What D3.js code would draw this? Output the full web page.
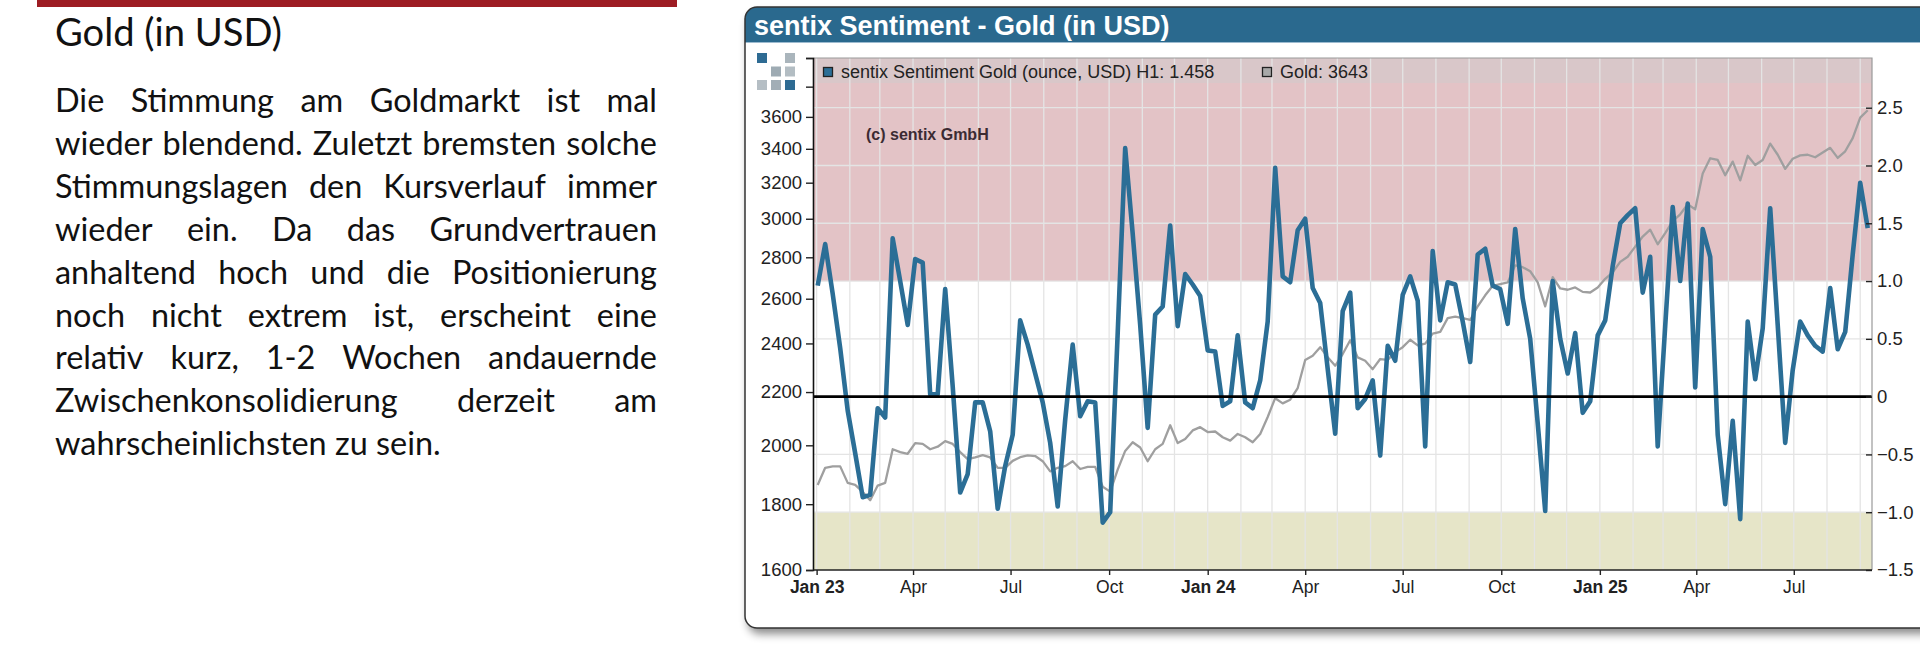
<!DOCTYPE html>
<html>
<head>
<meta charset="utf-8">
<title>sentix Sentiment - Gold (in USD)</title>
<script src="https://d3js.org/d3.v7.min.js"></script>
<style>
body { margin: 0; background: #fff; }
svg text { font-family: "Liberation Sans", Arial, sans-serif; }
.copy text { font-family: Lato, "Open Sans", sans-serif; fill: #111; }
</style>
</head>
<body>
<script>
// weekly readings, first one on this monday
const weekStart = "2023-01-02";

const sentiment = [
  0.96, 1.32, 0.89, 0.42, -0.12, -0.49, -0.87, -0.85, -0.10, -0.18,
  1.37, 1.00, 0.62, 1.19, 1.16, 0.02, 0.02, 0.93, 0.09, -0.83,
  -0.67, -0.05, -0.05, -0.30, -0.97, -0.60, -0.33, 0.66, 0.45, 0.20,
  -0.05, -0.40, -0.95, -0.20, 0.45, -0.17, -0.04, -0.05, -1.09, -1.00,
  0.55, 2.15, 1.41, 0.62, -0.27, 0.71, 0.78, 1.48, 0.61, 1.06,
  0.97, 0.87, 0.40, 0.39, -0.08, -0.04, 0.53, -0.05, -0.10, 0.14,
  0.65, 1.98, 1.04, 0.99, 1.44, 1.54, 0.94, 0.81, 0.24, -0.32,
  0.74, 0.90, -0.10, -0.02, 0.14, -0.51, 0.44, 0.31, 0.88, 1.04,
  0.83, -0.43, 1.26, 0.66, 0.99, 0.97, 0.65, 0.30, 1.23, 1.28,
  0.96, 0.93, 0.63, 1.45, 0.85, 0.50, -0.23, -0.99, 1.00, 0.50,
  0.20, 0.55, -0.14, -0.04, 0.53, 0.66, 1.13, 1.50, 1.57, 1.63,
  0.90, 1.21, -0.43, 0.61, 1.64, 1.00, 1.67, 0.08, 1.45, 1.21,
  -0.33, -0.93, -0.21, -1.06, 0.65, 0.15, 0.59, 1.63, 0.62, -0.40,
  0.23, 0.65, 0.53, 0.44, 0.39, 0.94, 0.41, 0.56, 1.23, 1.85,
  1.458
];

const gold = [
  1863, 1921, 1926, 1926, 1870, 1863, 1840, 1813, 1861, 1870,
  1986, 1976, 1970, 2008, 2005, 1986, 1995, 2015, 2005, 1976,
  1951, 1957, 1965, 1957, 1921, 1921, 1945, 1958, 1964, 1962,
  1944, 1909, 1921, 1927, 1944, 1917, 1924, 1924, 1857, 1841,
  1915, 1980, 2011, 1992, 1944, 1986, 2005, 2073, 2008, 2023,
  2054, 2066, 2048, 2050, 2029, 2017, 2041, 2029, 2011, 2041,
  2104, 2176, 2156, 2170, 2216, 2330, 2348, 2384, 2341, 2306,
  2355, 2414, 2341, 2327, 2292, 2334, 2330, 2363, 2384, 2416,
  2392, 2399, 2443, 2450, 2511, 2518, 2511, 2503, 2565, 2616,
  2661, 2669, 2677, 2760, 2751, 2731, 2677, 2565, 2702, 2648,
  2642, 2653, 2632, 2629, 2653, 2694, 2726, 2777, 2803, 2854,
  2906, 2942, 2866, 2924, 2987, 3024, 3079, 3051, 3253, 3343,
  3333, 3243, 3323, 3213, 3358, 3303, 3333, 3432, 3364, 3280,
  3340, 3360, 3364, 3349, 3378, 3406, 3345, 3385, 3466, 3595,
  3643
];

const goldTicks = [1600, 1800, 2000, 2200, 2400, 2600, 2800, 3000, 3200, 3400, 3600, 3800, 4000];
const sentTicks = [-1.5, -1, -0.5, 0, 0.5, 1, 1.5, 2, 2.5];
const quarterTicks = ["2023-01-01", "2023-04-01", "2023-07-01", "2023-10-01", "2024-01-01",
  "2024-04-01", "2024-07-01", "2024-10-01", "2025-01-01", "2025-04-01", "2025-07-01"];

const headline = "Gold (in USD)";
const bodyLines = [
  "Die Stimmung am Goldmarkt ist mal",
  "wieder blendend. Zuletzt bremsten solche",
  "Stimmungslagen den Kursverlauf immer",
  "wieder ein. Da das Grundvertrauen",
  "anhaltend hoch und die Positionierung",
  "noch nicht extrem ist, erscheint eine",
  "relativ kurz, 1-2 Wochen andauernde",
  "Zwischenkonsolidierung derzeit am",
  "wahrscheinlichsten zu sein."
];
const chartTitle = "sentix Sentiment - Gold (in USD)";
const legendSent = "sentix Sentiment Gold (ounce, USD) H1: 1.458";
const legendGold = "Gold: 3643";
const copyright = "(c) sentix GmbH";

const parseDay = d3.timeParse("%Y-%m-%d");
const dates = sentiment.map((_, i) => d3.timeDay.offset(parseDay(weekStart), 7 * i));

const W = 1920, H = 656;
const svg = d3.select("body").append("svg").attr("width", W).attr("height", H);
const defs = svg.append("defs");

// ---------- left column: headline + justified paragraph ----------
svg.append("rect").attr("x", 37).attr("y", 0).attr("width", 640).attr("height", 7).attr("fill", "#9d1c23");

const copy = svg.append("g").attr("class", "copy");
const head = copy.append("text").attr("x", 55).attr("y", 46).style("font-size", "30px").text(headline);
const hw = head.node().getComputedTextLength();
head.style("font-size", (30 * 227 / hw) + "px");

const probe = copy.append("text").style("font-size", "100px").text(bodyLines[8]);
const s9 = 100 * 386 / probe.node().getComputedTextLength();
probe.text(bodyLines[1]);
const s2 = 100 * 598 / probe.node().getComputedTextLength();
probe.remove();
const bodySize = Math.min(s9, s2);

const textLeft = 55, textRight = 657;
bodyLines.forEach((line, i) => {
  const y = 112 + 42.9 * i;
  if (i === bodyLines.length - 1) {
    copy.append("text").attr("x", textLeft).attr("y", y).style("font-size", bodySize + "px").text(line);
    return;
  }
  const words = line.split(" ");
  const nodes = words.map(w => copy.append("text").attr("y", y).style("font-size", bodySize + "px").text(w));
  const widths = nodes.map(n => n.node().getComputedTextLength());
  const gap = (textRight - textLeft - d3.sum(widths)) / (words.length - 1);
  let cx = textLeft;
  nodes.forEach((n, j) => { n.attr("x", cx); cx += widths[j] + gap; });
});

// ---------- chart frame ----------
const sh = defs.append("filter").attr("id", "shadow")
  .attr("x", "-5%").attr("y", "-5%").attr("width", "110%").attr("height", "115%");
sh.append("feDropShadow").attr("dx", 3).attr("dy", 6).attr("stdDeviation", 4)
  .attr("flood-color", "#000").attr("flood-opacity", 0.45);

defs.append("clipPath").attr("id", "frameClip")
  .append("rect").attr("x", 745).attr("y", 7).attr("width", 1250).attr("height", 621).attr("rx", 12);

svg.append("rect").attr("x", 745).attr("y", 7).attr("width", 1250).attr("height", 621).attr("rx", 12)
  .attr("fill", "#fff").attr("filter", "url(#shadow)");
svg.append("rect").attr("x", 745).attr("y", 7).attr("width", 1250).attr("height", 35)
  .attr("fill", "#2a698e").attr("clip-path", "url(#frameClip)");
svg.append("line").attr("x1", 745).attr("x2", W).attr("y1", 42.5).attr("y2", 42.5)
  .attr("stroke", "#9dbbd0").attr("stroke-width", 1);
svg.append("rect").attr("x", 745).attr("y", 7).attr("width", 1250).attr("height", 621).attr("rx", 12)
  .attr("fill", "none").attr("stroke", "#333").attr("stroke-width", 1.5);

svg.append("text").attr("x", 754).attr("y", 35).attr("fill", "#fff")
  .style("font-size", "27px").style("font-weight", "bold").text(chartTitle);

// logo
const logo = [[0, 0, "#2e6b93"], [2, 0, "#aab5bc"], [1, 1, "#9eabb3"], [2, 1, "#b3bdc3"],
  [0, 2, "#b5bec4"], [1, 2, "#a2aeb6"], [2, 2, "#2e6b93"]];
svg.append("g").selectAll("rect").data(logo).join("rect")
  .attr("x", d => 757 + d[0] * 14).attr("y", d => 53 + d[1] * 13.5)
  .attr("width", 10).attr("height", 10).attr("fill", d => d[2]);

// ---------- plot ----------
const P = { left: 813, right: 1872, top: 58, bottom: 570 };

const x = d3.scaleTime()
  .domain([new Date(2022, 11, 28, 15), new Date(2025, 8, 12)])
  .range([P.left, P.right]);
const yL = d3.scaleLog().domain([1600, 4000]).range([P.bottom, P.top]);
const yR = d3.scaleLinear().domain([-1.5, 2.93]).range([P.bottom, P.top]);

const plot = svg.append("g");
plot.append("rect").attr("x", P.left).attr("y", P.top).attr("width", P.right - P.left)
  .attr("height", P.bottom - P.top).attr("fill", "#fff");
// zones
plot.append("rect").attr("x", P.left).attr("y", P.top).attr("width", P.right - P.left)
  .attr("height", yR(1) - P.top).attr("fill", "#e3c3c6");
plot.append("rect").attr("x", P.left).attr("y", yR(-1)).attr("width", P.right - P.left)
  .attr("height", P.bottom - yR(-1)).attr("fill", "#e6e5c8");
// legend band
plot.append("rect").attr("x", P.left).attr("y", P.top).attr("width", P.right - P.left)
  .attr("height", 25).attr("fill", "#d9c7c9");

// grid
const months = d3.timeMonth.range(new Date(2023, 0, 1), new Date(2025, 8, 2));
plot.append("g").selectAll("line").data(months).join("line")
  .attr("x1", d => x(d)).attr("x2", d => x(d)).attr("y1", P.top).attr("y2", P.bottom)
  .attr("stroke", "#e4e4e4").attr("stroke-width", 1.3);
plot.append("g").selectAll("line").data(sentTicks.filter(v => v > -1.5)).join("line")
  .attr("x1", P.left).attr("x2", P.right).attr("y1", d => yR(d)).attr("y2", d => yR(d))
  .attr("stroke", "#e4e4e4").attr("stroke-width", 1.3);

defs.append("clipPath").attr("id", "plotClip").append("rect")
  .attr("x", P.left).attr("y", P.top).attr("width", P.right - P.left).attr("height", P.bottom - P.top);

const lines = plot.append("g").attr("clip-path", "url(#plotClip)");
lines.append("path").datum(gold)
  .attr("d", d3.line().x((d, i) => x(dates[i])).y(d => yL(d)))
  .attr("fill", "none").attr("stroke", "#9f9f9f").attr("stroke-width", 2.3).attr("stroke-linejoin", "round");
lines.append("path").datum(sentiment)
  .attr("d", d3.line().x((d, i) => x(dates[i])).y(d => yR(d)))
  .attr("fill", "none").attr("stroke", "#2b6e96").attr("stroke-width", 4.6).attr("stroke-linejoin", "round");

// zero line
plot.append("line").attr("x1", P.left).attr("x2", P.right).attr("y1", yR(0)).attr("y2", yR(0))
  .attr("stroke", "#000").attr("stroke-width", 2.6);

// border top/right
plot.append("path")
  .attr("d", `M${P.left},${P.top}H${P.right}V${P.bottom}`)
  .attr("fill", "none").attr("stroke", "#9a9a9a").attr("stroke-width", 1.2);

// legend
plot.append("rect").attr("x", 823.5).attr("y", 67.5).attr("width", 9).attr("height", 9)
  .attr("fill", "#2b6e96").attr("stroke", "#222").attr("stroke-width", 1.3);
plot.append("text").attr("x", 841).attr("y", 77.5).attr("fill", "#222")
  .style("font-size", "18px").text(legendSent);
plot.append("rect").attr("x", 1262.5).attr("y", 67.5).attr("width", 9).attr("height", 9)
  .attr("fill", "#a8a8a8").attr("stroke", "#222").attr("stroke-width", 1.3);
plot.append("text").attr("x", 1280).attr("y", 77.5).attr("fill", "#222")
  .style("font-size", "18px").text(legendGold);
plot.append("text").attr("x", 866).attr("y", 140).attr("fill", "#3b2b33")
  .style("font-size", "16px").style("font-weight", "bold").text(copyright);

// ---------- axes ----------
const axL = svg.append("g").attr("transform", `translate(${P.left},0)`)
  .call(d3.axisLeft(yL).tickValues(goldTicks).tickSize(7).tickPadding(4)
    .tickFormat(d => d <= 3600 ? d : ""));
axL.select(".domain").attr("stroke", "#111").attr("stroke-width", 1.6);

const axR = svg.append("g").attr("transform", `translate(${P.right},0)`)
  .call(d3.axisRight(yR).tickValues(sentTicks).tickSize(-6).tickPadding(5)
    .tickFormat(d => d === 0 ? "0" : d3.format(".1f")(d)));
axR.select(".domain").remove();

const fmtJan = d3.timeFormat("%b %y"), fmtMon = d3.timeFormat("%b");
const axB = svg.append("g").attr("transform", `translate(0,${P.bottom})`)
  .call(d3.axisBottom(x).tickValues(quarterTicks.map(parseDay)).tickSize(5).tickPadding(6)
    .tickFormat(d => d.getMonth() === 0 ? fmtJan(d) : fmtMon(d)));
axB.select(".domain").attr("stroke", "#222").attr("stroke-width", 1.5)
  .attr("d", `M${P.left},0H${P.right}`);
axB.selectAll(".tick text").style("font-weight", d => d.getMonth() === 0 ? "bold" : "normal");

[axL, axR, axB].forEach(a => {
  a.selectAll(".tick text").attr("fill", "#222").style("font-size", a === axB ? "17.5px" : "18.5px")
    .style("font-family", '"Liberation Sans", Arial, sans-serif');
  a.selectAll(".tick line").attr("stroke", "#222").attr("stroke-width", 1.4);
});
</script>
</body>
</html>
